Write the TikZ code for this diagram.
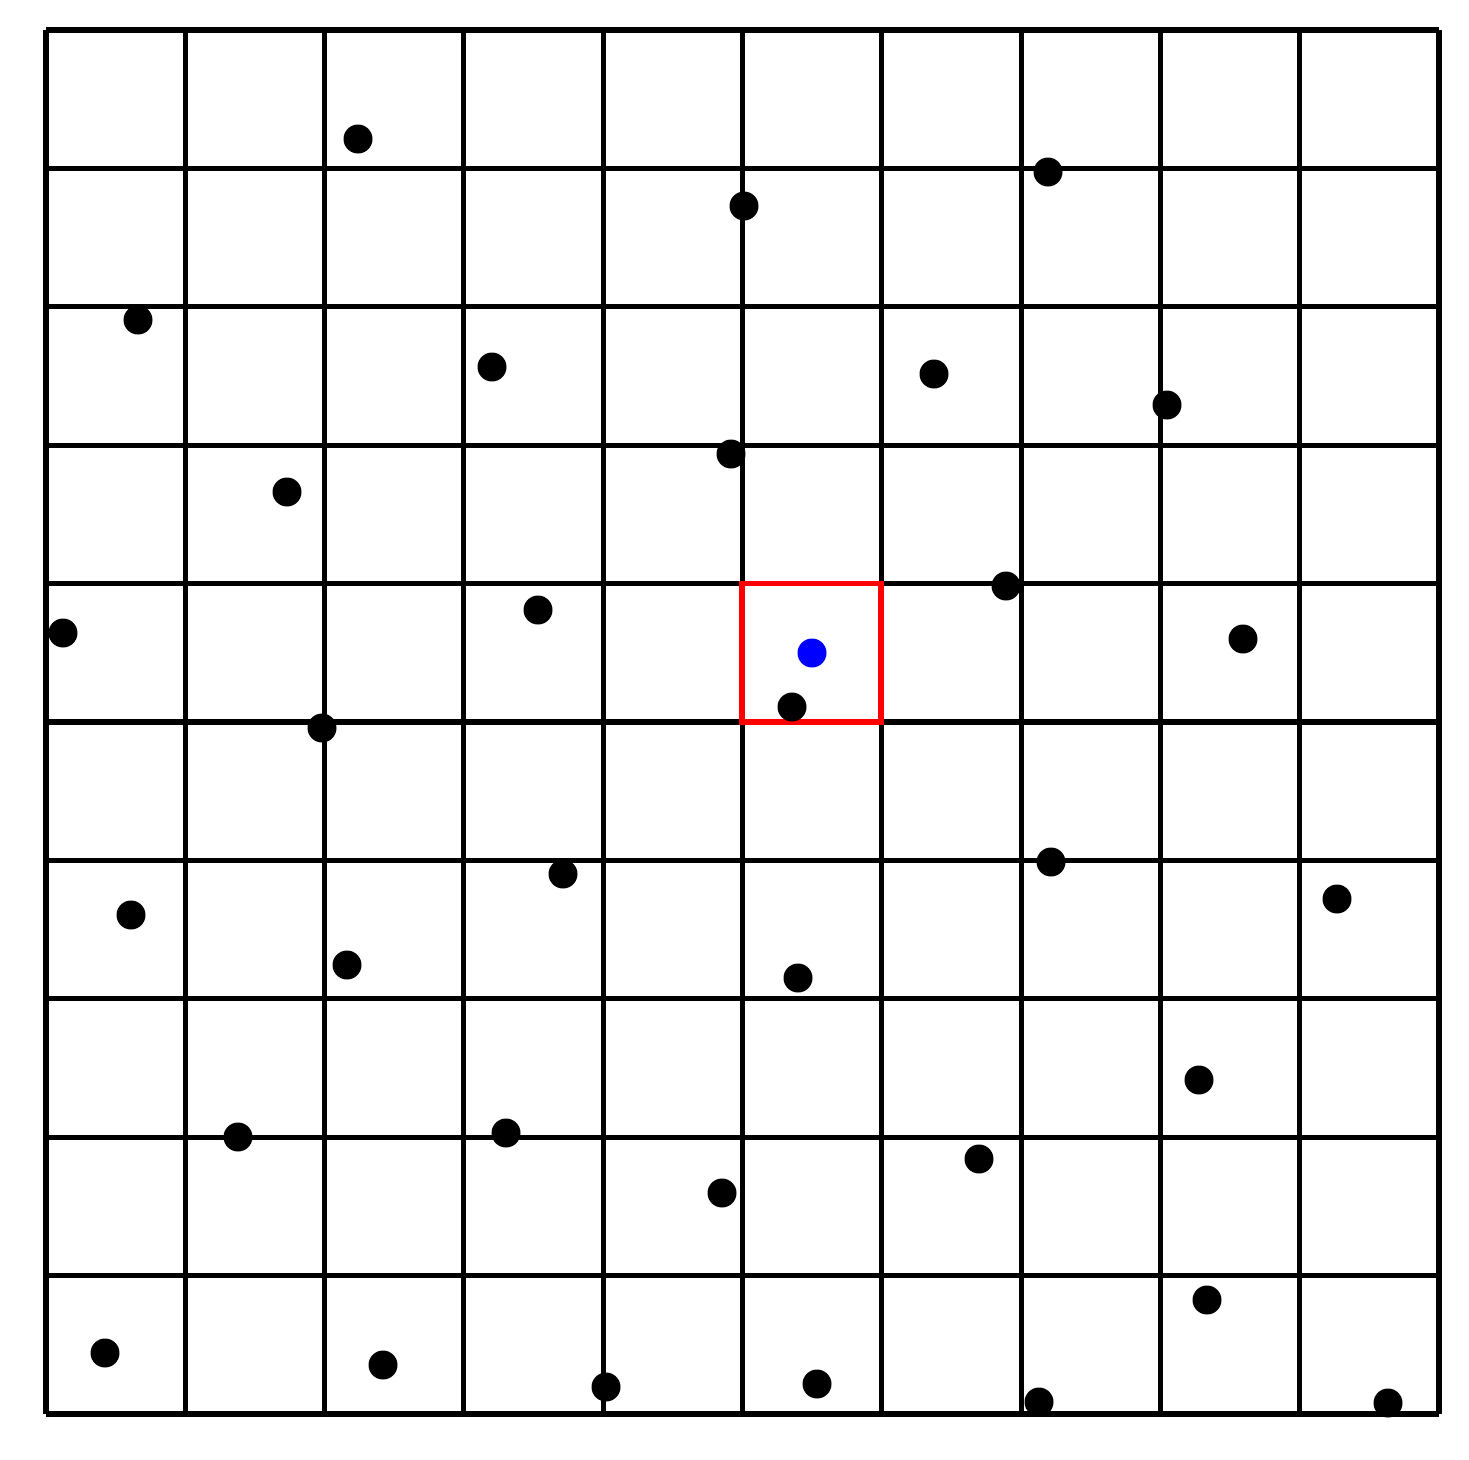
\documentclass[tikz,border=0pt]{standalone}
\begin{document}
\begin{tikzpicture}[
    x=0.01cm,y=-0.01cm,
    gridLine/.style={draw=black,line width=1.45pt},
    cellMark/.style={draw=red,line width=1.6pt},
    ptDot/.style={fill=black},
    qryDot/.style={fill=blue},
]
\useasboundingbox (0,0) rectangle (1469,1460);
% grid lines
\foreach \i in {0,...,10} {
    \draw[gridLine] ({46+139.3*\i},30) -- ({46+139.3*\i},1414);
    \draw[gridLine] (46,{30+138.4*\i}) -- (1439,{30+138.4*\i});
}
% highlighted cell
\draw[cellMark] (742,583.6) rectangle (881.3,722);
% sample points
\foreach \px/\py in {358/139,1048/172,744/206,138/320,492/367,934/374,1167/405,
    731/454,287/492,1006/586,63/633,538/610,1243/639,792/707,322/728,1051/862,
    563/874,131/915,1337/899,347/965,798/978,1199/1080,238/1137,506/1133,
    979/1159,722/1193,1207/1300,105/1353,383/1365,606/1387,817/1384,1039/1402,1388/1403}
    \fill[ptDot] (\px,\py) circle[radius=14.5];
% query point
\fill[qryDot] (812,653) circle[radius=14.5];
\end{tikzpicture}
\end{document}
